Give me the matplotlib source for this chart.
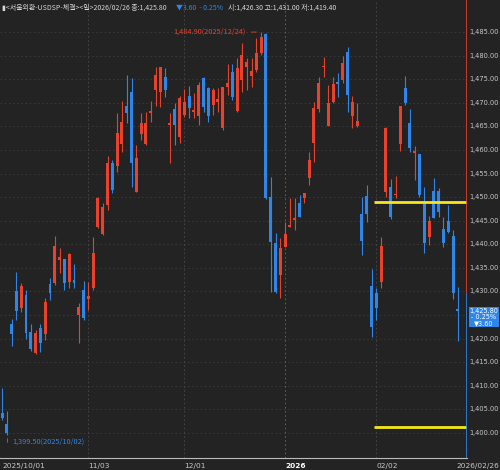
import matplotlib
matplotlib.use("Agg")
import matplotlib.pyplot as plt
import numpy as np

plt.rcParams['font.family'] = ['Noto Sans CJK KR', 'DejaVu Sans']

opens = [1404.2,1401.9,1423.1,1430.1,1426.5,1429.3,1421.4,1417.0,1422.3,1421.0,
         1431.6,1431.8,1436.7,1436.9,1432.0,1432.4,1425.0,1430.3,1428.4,1430.7,
         1443.7,1442.2,1448.3,1457.2,1456.6,1461.3,1469.3,1472.3,1451.1,1463.4,
         1461.3,1467.8,1472.7,1472.3,1475.5,1465.3,1468.7,1462.8,1467.4,1471.5,
         1468.1,1467.2,1475.3,1473.1,1469.5,1470.2,1464.6,1473.4,1476.5,1468.3,
         1474.8,1477.6,1475.7,1477.0,1480.6,1484.5,1450.0,1440.3,1433.5,1439.4,
         1443.7,1445.2,1448.7,1449.8,1454.1,1461.5,1468.7,1477.6,1465.1,1470.2,
         1474.4,1474.8,1480.8,1467.2,1465.1,1446.4,1450.3,1431.2,1429.7,1432.0,
         1451.1,1452.2,1450.4,1461.3,1473.1,1465.7,1459.4,1459.2,1448.7,1441.6,
         1451.3,1451.3,1443.3,1445.0,1441.8,1426.3]
highs = [1409.5,1404.7,1424.2,1434.1,1431.8,1430.3,1423.1,1421.8,1423.1,1428.6,
         1432.9,1441.8,1439.2,1436.9,1438.2,1435.8,1427.6,1432.2,1432.0,1441.6,
         1450.0,1448.7,1458.7,1457.9,1467.8,1470.4,1475.9,1475.3,1461.1,1467.8,
         1468.0,1470.4,1477.6,1477.6,1477.4,1467.8,1470.0,1471.5,1472.9,1473.6,
         1472.1,1474.4,1475.5,1473.4,1473.1,1473.1,1473.4,1478.2,1478.2,1479.5,
         1482.7,1479.5,1479.5,1483.7,1485.0,1484.9,1454.3,1442.4,1441.3,1444.7,
         1449.8,1449.8,1450.4,1450.9,1459.6,1470.2,1475.5,1479.7,1473.8,1475.5,
         1476.3,1479.9,1481.8,1471.5,1470.0,1450.0,1452.6,1434.8,1430.7,1441.6,
         1464.9,1453.9,1454.5,1469.3,1475.7,1468.7,1460.8,1459.2,1452.2,1446.0,
         1454.1,1451.9,1445.8,1448.3,1443.0,1431.0]
lows = [1402.8,1399.5,1418.4,1424.0,1425.7,1419.9,1417.4,1416.8,1417.2,1419.7,
        1428.2,1431.4,1433.9,1430.3,1430.7,1430.7,1419.1,1424.0,1426.1,1430.3,
        1443.5,1442.0,1447.3,1450.9,1455.3,1459.6,1465.7,1452.1,1451.1,1462.1,
        1461.1,1465.9,1469.3,1469.1,1471.2,1457.2,1461.1,1461.5,1467.0,1466.8,
        1466.8,1465.3,1468.1,1465.9,1467.4,1468.1,1464.2,1471.7,1470.6,1468.1,
        1472.3,1472.7,1473.4,1476.5,1480.1,1449.6,1429.9,1429.7,1428.6,1439.4,
        1443.7,1443.0,1445.8,1448.7,1452.6,1457.4,1468.1,1475.5,1465.1,1470.0,
        1471.2,1474.2,1468.1,1464.6,1464.9,1437.7,1444.7,1420.4,1424.0,1430.7,
        1450.0,1445.4,1449.8,1459.8,1469.5,1459.6,1453.6,1450.0,1438.2,1439.9,
        1445.6,1445.8,1439.4,1442.4,1428.4,1419.4]
closes = [1403.2,1400.0,1421.0,1425.9,1431.2,1421.2,1417.8,1421.2,1419.1,1427.8,
          1429.7,1439.6,1437.3,1431.8,1438.0,1431.8,1426.7,1424.4,1429.0,1438.2,
          1449.8,1447.9,1457.2,1451.5,1463.6,1465.9,1467.8,1457.2,1458.3,1465.7,
          1465.7,1468.3,1475.9,1477.6,1472.7,1465.7,1465.3,1471.0,1470.2,1468.9,
          1468.5,1473.8,1469.1,1467.2,1472.7,1470.8,1473.4,1474.2,1471.2,1477.4,
          1480.1,1478.6,1476.7,1480.6,1484.0,1449.8,1440.5,1429.9,1439.2,1442.2,
          1444.1,1445.6,1445.8,1450.9,1457.9,1468.9,1474.2,1477.8,1470.0,1474.0,
          1474.0,1478.4,1471.7,1470.2,1466.1,1440.7,1446.4,1422.5,1426.5,1439.6,
          1464.7,1445.8,1450.5,1469.3,1470.0,1460.4,1459.6,1450.5,1440.3,1444.9,
          1445.6,1446.9,1440.3,1442.6,1429.7,1425.8]

date_ticks = [0, 18, 38, 59, 78]
date_labels = ["2025/10/01", "11/03", "12/01", "2026", "02/02"]
last_label = "2026/02/26"
yticks = list(range(1400, 1486, 5))
hlines = [1449.0, 1401.3]
hline_start = 77.5

BG = "#232323"
RED = "#e8412c"
BLUE = "#2f86e8"
TXT = "#c8c8c8"

fig = plt.figure(figsize=(5, 4.7), dpi=100, facecolor=BG)
ax = fig.add_axes([0, 12/470, 467/500, 1 - 12/470], facecolor=BG)
n = len(opens)
x = np.arange(n)
ax.set_xlim(-0.42, n - 1 + 1.9)
ax.set_ylim(1394.7, 1491.8)

for yv in yticks:
    ax.axhline(yv, color="#3c3c3c", lw=0.6, ls=(0, (2, 3)), zorder=0)
for t in date_ticks[1:]:
    ax.axvline(t, color="#4a4a4a" if t != 59 else "#6a6a6a", lw=0.6, ls=(0, (2, 3)), zorder=0)

for i in range(n):
    o, h, l, c = opens[i], highs[i], lows[i], closes[i]
    col = RED if c >= o else BLUE
    ax.vlines(x[i], l, h, color=col, lw=0.8, zorder=2)
    lo, hi = min(o, c), max(o, c)
    if hi - lo < 0.3:
        hi = lo + 0.3
    ax.bar(x[i], hi - lo, bottom=lo, width=0.62, color=col, zorder=3, linewidth=0)

for hv in hlines:
    ax.hlines(hv, hline_start, n - 1 + 1.9, color="#f5e71a", lw=2, zorder=4)

xr = n - 1 + 1.85
ax.vlines(xr, 1429.7, 1491.8, color=RED, lw=1.2, zorder=5)
ax.vlines(xr, 1394.7, 1429.7, color=BLUE, lw=1.2, zorder=5)

for s in ax.spines.values():
    s.set_visible(False)
ax.spines['bottom'].set_visible(True)
ax.spines['bottom'].set_color("#bbbbbb")
ax.tick_params(left=False, labelleft=False, bottom=False, labelbottom=False)

for yv in yticks:
    if yv == 1425:
        continue  # hidden behind the current-price box
    fig.text(469/500, ax.transData.transform((0, yv))[1] / 470, f"{yv:,.2f}",
             color=TXT, fontsize=4.8, va="center", ha="left", family=['DejaVu Sans'])

for t, lab in zip(date_ticks, date_labels):
    xp = ax.transData.transform((t, 0))[0] / 500
    fig.text(max(xp, 0.002), 1 / 470, lab, color="white" if lab == "2026" else TXT,
             fontsize=5.3, fontweight="bold" if lab == "2026" else "normal",
             ha="left", va="bottom", family=['DejaVu Sans'])
fig.text(0.998, 1 / 470, last_label, color=TXT, fontsize=5.3, ha="right", va="bottom",
         family=['DejaVu Sans'])

hi_i = int(np.argmax(highs))
ax.annotate("1,484.90(2025/12/24)", xy=(hi_i - 0.4, highs[hi_i]), xytext=(hi_i - 3.2, highs[hi_i]),
            color=RED, fontsize=5.3, ha="right", va="center",
            arrowprops=dict(arrowstyle="-", color=RED, lw=0.6))
lo_i = int(np.argmin(lows))
ax.annotate("1,399.50(2025/10/02)", xy=(lo_i, lows[lo_i]), xytext=(lo_i + 1.2, lows[lo_i] - 1.4),
            color=BLUE, fontsize=5.3, ha="left", va="center",
            arrowprops=dict(arrowstyle="-", color=BLUE, lw=0.6, connectionstyle="angle,angleA=0,angleB=90"))

fig.text(2/500, 1 - 8/470, "▮<서울외환-USDSP-체결><일>2026/02/26 종:1,425.80", color="#d8d8d8",
         fontsize=5.0, va="center", ha="left")
fig.text(176/500, 1 - 8/470, "▼3.60  - 0.25%", color=BLUE, fontsize=5.0, va="center", ha="left")
fig.text(228/500, 1 - 8/470, "시:1,426.30 고:1,431.00 저:1,419.40", color="#d8d8d8",
         fontsize=5.0, va="center", ha="left")

ycur = ax.transData.transform((0, closes[-1]))[1] / 470
fig.text(484/500, ycur - 0.012, "1,425.80\n- 0.25%\n▼3.60", color="white", fontsize=4.7,
         ha="center", va="center", linespacing=1.0, family=['DejaVu Sans'],
         bbox=dict(boxstyle="square,pad=0.15", fc=BLUE, ec="none"), zorder=10)

fig.savefig("out.png", dpi=100, facecolor=BG)
